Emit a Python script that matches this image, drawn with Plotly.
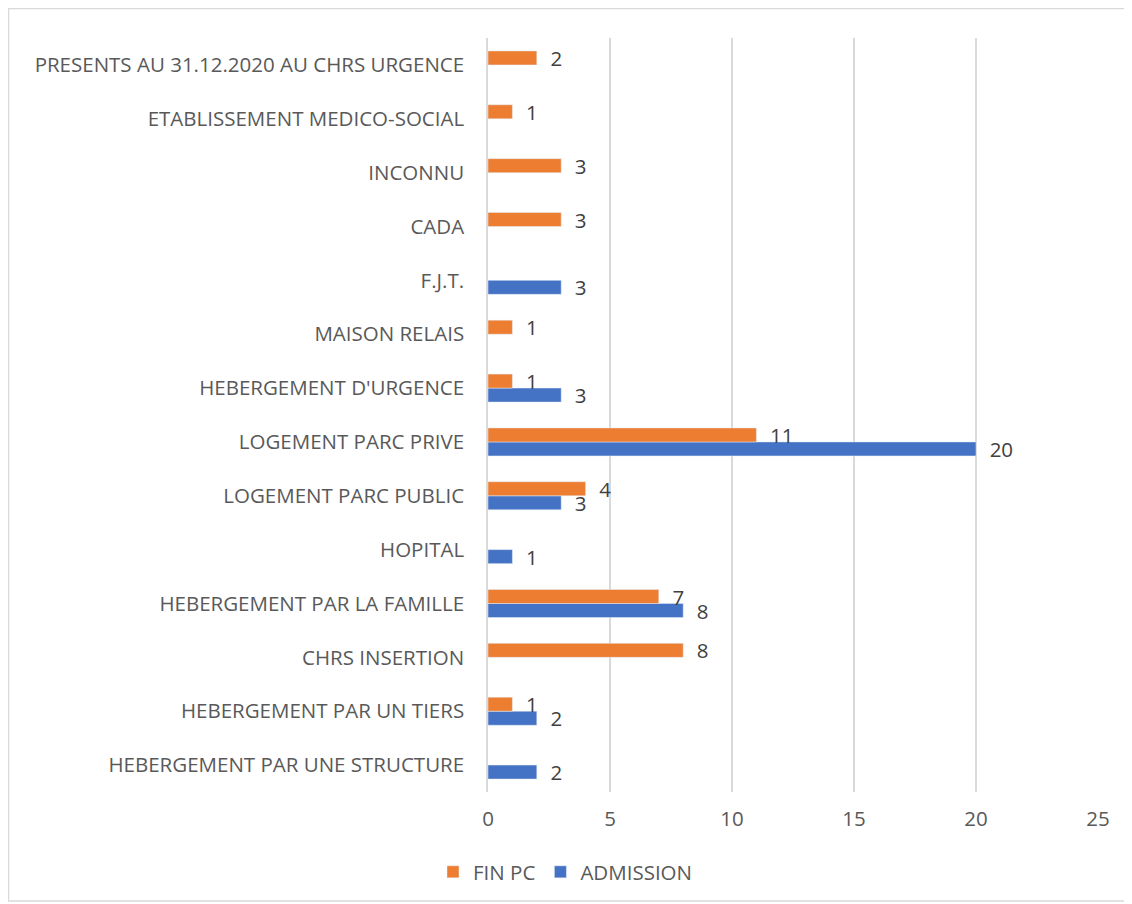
import plotly.graph_objects as go

categories = [
    "HEBERGEMENT PAR UNE STRUCTURE",
    "HEBERGEMENT PAR UN TIERS",
    "CHRS INSERTION",
    "HEBERGEMENT PAR LA FAMILLE",
    "HOPITAL",
    "LOGEMENT PARC PUBLIC",
    "LOGEMENT PARC PRIVE",
    "HEBERGEMENT D'URGENCE",
    "MAISON RELAIS",
    "F.J.T.",
    "CADA",
    "INCONNU",
    "ETABLISSEMENT MEDICO-SOCIAL",
    "PRESENTS AU 31.12.2020 AU CHRS URGENCE",
]
admission = [2, 2, None, 8, 1, 3, 20, 3, None, 3, None, None, None, None]
fin_pc = [None, 1, 8, 7, None, 4, 11, 1, 1, None, 3, 3, 1, 2]
x_ticks = [0, 5, 10, 15, 20, 25]

FONT = "Open Sans"
FS = 20.5
OFF = 8  # page body margin
W, H = 1124, 896
L, R = 488 - OFF, W - (1098 - OFF)
T, B = 38 - OFF, H - (792 - OFF)
pw, ph = W - L - R, H - T - B


def px_x(px):  # page pixel -> paper x
    return (px - OFF - L) / pw


def px_y(py):  # page pixel -> paper y
    return (H - B - (py - OFF)) / ph


fig = go.Figure()
fig.add_trace(go.Bar(
    y=categories, x=admission, orientation="h", name="ADMISSION",
    marker=dict(color="#4472C4"),
    text=admission, texttemplate="  %{x}", textposition="outside",
    constraintext="none",
    textfont=dict(size=FS, color="#404040", family=FONT), cliponaxis=False,
))
fig.add_trace(go.Bar(
    y=categories, x=fin_pc, orientation="h", name="FIN PC",
    marker=dict(color="#ED7D31"),
    text=fin_pc, texttemplate="  %{x}", textposition="outside",
    constraintext="none",
    textfont=dict(size=FS, color="#404040", family=FONT), cliponaxis=False,
))

fig.update_layout(
    width=W, height=H,
    margin=dict(l=L, r=R, t=T, b=B),
    paper_bgcolor="white", plot_bgcolor="white",
    barmode="group", bargap=0.48, bargroupgap=0,
    font=dict(family=FONT, size=FS, color="#595959"),
    showlegend=True,
    legend=dict(orientation="h", traceorder="reversed",
                x=px_x(433), xanchor="left",
                y=px_y(872), yanchor="middle",
                font=dict(size=FS, color="#595959"),
                itemwidth=30),
    xaxis=dict(range=[0, 25], tickvals=x_ticks, showgrid=True,
               gridcolor="#D9D9D9", gridwidth=1.5, zeroline=False,
               showline=False, ticks="", ticklabelstandoff=12,
               tickfont=dict(size=FS, color="#595959")),
    yaxis=dict(categoryorder="array", categoryarray=categories,
               showgrid=False, zeroline=False, showline=True,
               linecolor="#D9D9D9", linewidth=1.5, ticks="",
               ticklabelstandoff=18,
               tickfont=dict(size=FS, color="#595959")),
    shapes=[dict(type="rect", xref="paper", yref="paper",
                 x0=px_x(8.5), x1=px_x(1129),
                 y0=px_y(901), y1=px_y(8.5),
                 line=dict(color="#D9D9D9", width=1.5),
                 fillcolor="rgba(0,0,0,0)", layer="below")],
)

fig.write_html("out.html")
